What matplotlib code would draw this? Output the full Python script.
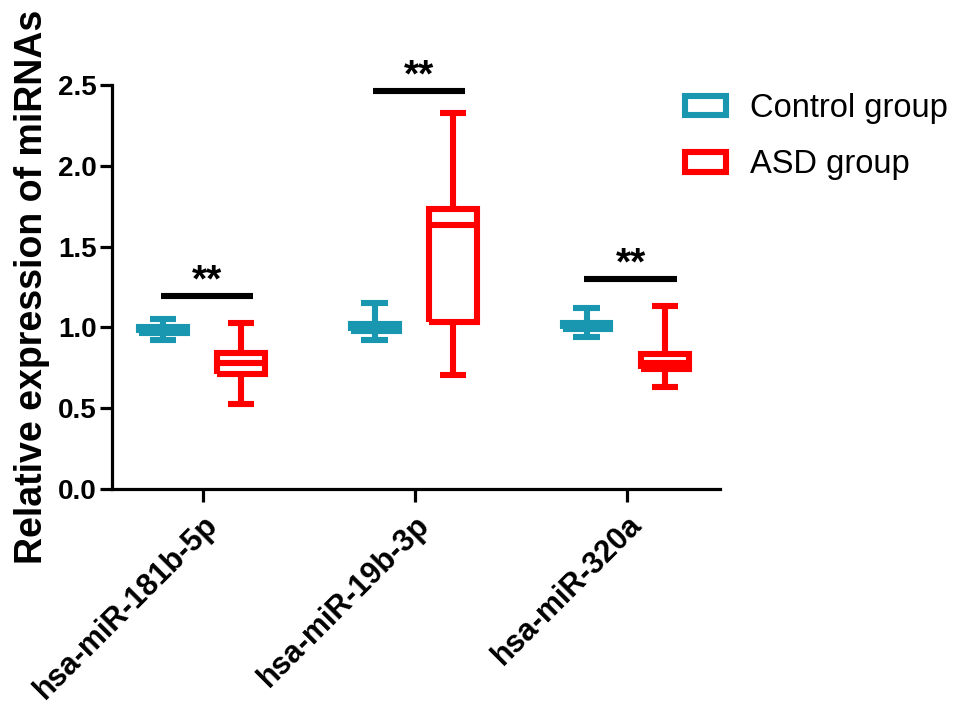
import matplotlib
matplotlib.use("Agg")
import matplotlib.pyplot as plt
from matplotlib.patches import Patch

plt.rcParams['font.family'] = ['Liberation Sans', 'DejaVu Sans']

categories = ["hsa-miR-181b-5p", "hsa-miR-19b-3p", "hsa-miR-320a"]
groups = ["Control group", "ASD group"]
colors = ["#1A97B0", "#FF0000"]

# per group: [whislo, q1, med, q3, whishi] for each category
control_stats = [
    [0.92, 0.965, 0.985, 1.00, 1.05],
    [0.925, 0.975, 1.00, 1.02, 1.15],
    [0.94, 0.99, 1.01, 1.03, 1.12],
]
asd_stats = [
    [0.525, 0.71, 0.78, 0.84, 1.03],
    [0.705, 1.035, 1.635, 1.735, 2.325],
    [0.63, 0.74, 0.78, 0.835, 1.13],
]
sig_levels = [1.195, 2.46, 1.30]
sig_labels = ["**", "**", "**"]
yticks = [0.0, 0.5, 1.0, 1.5, 2.0, 2.5]

fig = plt.figure(figsize=(9.57, 7.04), dpi=100)
ax = fig.add_axes([112/957, 1-489/704, (720-112)/957, (489-85)/704])

offsets = [-0.19, 0.18]
lw = 4.4
for gi, (stats_list, col) in enumerate(zip([control_stats, asd_stats], colors)):
    stats = []
    for s in stats_list:
        stats.append(dict(whislo=s[0], q1=s[1], med=s[2], q3=s[3], whishi=s[4], fliers=[]))
    pos = [i + offsets[gi] for i in range(len(categories))]
    props = dict(color=col, linewidth=lw, solid_capstyle='butt', solid_joinstyle='miter')
    ax.bxp(stats, positions=pos, widths=0.225, capwidths=0.125, showfliers=False,
           boxprops=props, whiskerprops=props, capprops=props,
           medianprops=props, manage_ticks=False)

for i, (lvl, lab) in enumerate(zip(sig_levels, sig_labels)):
    ax.plot([i - 0.2, i + 0.235], [lvl, lvl], color='black', lw=4.4, solid_capstyle='butt')
    ax.text(i + 0.02, lvl - 0.02, lab, ha='center', va='bottom', fontsize=28,
            fontweight='bold', clip_on=False)

ax.set_xlim(-0.43, 2.44)
ax.set_ylim(0, 2.5)
ax.set_yticks(yticks)
ax.set_yticklabels([f"{v:.1f}" for v in yticks], fontsize=20, fontweight='bold')
ax.set_xticks(range(len(categories)))
ax.set_xticklabels(categories, rotation=45, ha='right', rotation_mode='anchor',
                   fontsize=22, fontweight='bold')
ax.set_ylabel("Relative expression of miRNAs", fontsize=27, fontweight='bold', labelpad=6)
for sp in ['top', 'right']:
    ax.spines[sp].set_visible(False)
for sp in ['left', 'bottom']:
    ax.spines[sp].set_linewidth(2.3)
ax.tick_params(axis='both', width=2.3, length=9, direction='out')
ax.tick_params(axis='y', pad=2)
ax.tick_params(axis='x', pad=6)

handles = [Patch(facecolor='white', edgecolor=c, linewidth=4.4) for c in colors]
fig.legend(handles, groups, loc='upper left', bbox_to_anchor=(685/957, 1-93/704),
           frameon=False, fontsize=23.5, handlelength=1.25, handleheight=0.55,
           handletextpad=0.75, labelspacing=0.78, borderpad=0, borderaxespad=0)

fig.savefig("out.png", dpi=100)
